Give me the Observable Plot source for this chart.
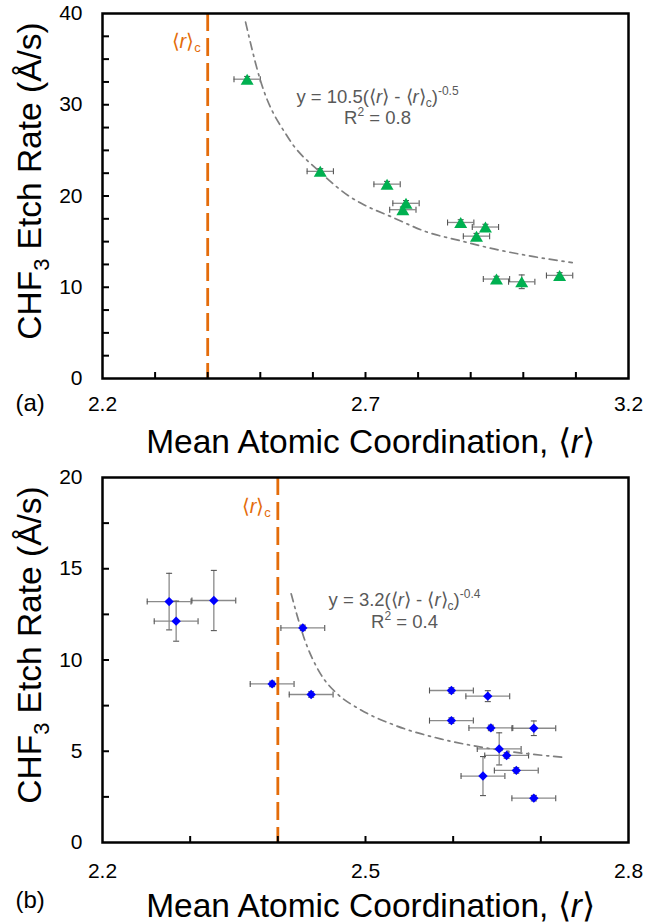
<!DOCTYPE html>
<html>
<head>
<meta charset="utf-8">
<script src="https://cdn.jsdelivr.net/npm/d3@7"></script>
<script src="https://cdn.jsdelivr.net/npm/@observablehq/plot@0.6"></script>
<style>
  html, body { margin: 0; padding: 0; background: #fff; }
  #chart { width: 668px; }
  #chart svg { display: block; }
</style>
</head>
<body>
<div id="chart"></div>
<script>
// ---------- Panel (a) data ----------
const xA = [2.475, 2.614, 2.741, 2.777, 2.771, 2.881, 2.928, 2.911, 2.949, 2.997, 3.069];
const yA = [32.8, 22.7, 21.3, 19.2, 18.5, 17.1, 16.6, 15.6, 10.9, 10.6, 11.3];
const xErrA = [0.025, 0.025, 0.025, 0.025, 0.025, 0.025, 0.025, 0.025, 0.025, 0.025, 0.025];
const yErrA = [0.3, 0.3, 0.3, 0.3, 0.3, 0.3, 0.3, 0.3, 0.3, 0.75, 0.3];
const fitXA = [2.472, 2.500, 2.554, 2.614, 2.671, 2.690, 2.750, 2.817, 2.880, 2.944, 3.020, 3.093];
const fitYA = [39.05, 32.7, 26.3, 22.6, 19.9, 19.25, 17.7, 16.05, 15.1, 14.2, 13.35, 12.7];
const xDomainA = [2.2, 3.2];
const yDomainA = [0, 40];
const xTicksA = [2.2, 2.7, 3.2];
const yTicksA = [0, 10, 20, 30, 40];
const xMinorA = [2.3, 2.4, 2.5, 2.6, 2.7, 2.8, 2.9, 3.0, 3.1];
const yMinorA = [2.5, 5, 7.5, 10, 12.5, 15, 17.5, 20, 22.5, 25, 27.5, 30, 32.5, 35, 37.5];
const rcA = [2.4];

// ---------- Panel (b) data ----------
const xB = [2.276, 2.284, 2.327, 2.4285, 2.3935, 2.438, 2.598, 2.6395, 2.598, 2.643, 2.692, 2.6525, 2.661, 2.672, 2.634, 2.692];
const yB = [13.2, 12.13, 13.26, 11.76, 8.69, 8.11, 8.33, 8.02, 6.68, 6.28, 6.26, 5.13, 4.77, 3.95, 3.64, 2.43];
const xErrB = [0.025, 0.025, 0.025, 0.025, 0.025, 0.025, 0.025, 0.025, 0.025, 0.025, 0.025, 0.025, 0.025, 0.025, 0.025, 0.025];
const yErrB = [1.55, 1.1, 1.65, 0.15, 0.15, 0.15, 0.15, 0.3, 0.15, 0.15, 0.4, 0.88, 0.15, 0.15, 1.07, 0.15];
const fitXB = [2.4152, 2.4296, 2.4487, 2.4677, 2.4923, 2.5342, 2.5855, 2.6388, 2.7244];
const fitYB = [13.63, 11.25, 9.24, 8.15, 7.33, 6.41, 5.68, 5.17, 4.67];
const xDomainB = [2.2, 2.8];
const yDomainB = [0, 20];
const xTicksB = [2.2, 2.5, 2.8];
const yTicksB = [0, 5, 10, 15, 20];
const xMinorB = [2.3, 2.4, 2.5, 2.6, 2.7];
const yMinorB = [2.5, 5, 7.5, 10, 12.5, 15, 17.5];
const rcB = [2.4];

// ---------- Texts ----------
const yTitle = "CHF3 Etch Rate (Å/s)";
const xTitle = "Mean Atomic Coordination, ⟨r⟩";
const rcLabel = "⟨r⟩c";
const eqA = "y = 10.5(⟨r⟩ - ⟨r⟩c)-0.5";
const r2A = "R2 = 0.8";
const eqB = "y = 3.2(⟨r⟩ - ⟨r⟩c)-0.4";
const r2B = "R2 = 0.4";
const panelLabels = ["(a)", "(b)"];

const TITLE_SIZE = 33.5;
const EQ_SIZE = 18.5;
const RICH = new Map([
  [yTitle, {size: TITLE_SIZE, segs: [["CHF"], ["3", "sub"], [" Etch Rate (Å/s)"]]}],
  [xTitle, {size: TITLE_SIZE, segs: [["Mean Atomic Coordination, ⟨"], ["r", "i"], ["⟩"]]}],
  [rcLabel, {size: 20, segs: [["⟨"], ["r", "i"], ["⟩"], ["c", "sub"]]}],
  [eqA, {size: EQ_SIZE, segs: [["y = 10.5(⟨"], ["r", "i"], ["⟩ - ⟨"], ["r", "i"], ["⟩"], ["c", "sub"], [")"], ["-0.5", "sup"]]}],
  [eqB, {size: EQ_SIZE, segs: [["y = 3.2(⟨"], ["r", "i"], ["⟩ - ⟨"], ["r", "i"], ["⟩"], ["c", "sub"], [")"], ["-0.4", "sup"]]}],
  [r2A, {size: EQ_SIZE, segs: [["R"], ["2", "sup"], [" = 0.8"]]}],
  [r2B, {size: EQ_SIZE, segs: [["R"], ["2", "sup"], [" = 0.4"]]}]
]);

const FONT = "'Liberation Sans', Arial, Helvetica, sans-serif";
const ORANGE = "#E46C0A";
const GREEN = "#00B050";
const BLUE = "#0000FF";
const ERR = "#8A8A8A";
const FIT = "#7F7F7F";
const TEXTGRAY = "#595959";

// custom symbols (centred on bounding box, like the spreadsheet markers)
const triangleSym = {draw(ctx, size) {
  const r = Math.sqrt(size / Math.PI);
  const w = 1.3 * r, h = 1.1 * r;
  ctx.moveTo(0, -h); ctx.lineTo(w, h); ctx.lineTo(-w, h); ctx.closePath();
}};
const diamondSym = {draw(ctx, size) {
  const r = Math.sqrt(size / Math.PI);
  ctx.moveTo(0, -r); ctx.lineTo(r, 0); ctx.lineTo(0, r); ctx.lineTo(-r, 0); ctx.closePath();
}};
const capV = {draw(ctx, size) {
  const r = Math.sqrt(size / Math.PI);
  ctx.moveTo(0, -r); ctx.lineTo(0, r);
}};
const capH = {draw(ctx, size) {
  const r = Math.sqrt(size / Math.PI);
  ctx.moveTo(-r, 0); ctx.lineTo(r, 0);
}};

function richify(svg) {
  d3.select(svg).selectAll("text").each(function () {
    const entry = RICH.get(this.textContent);
    if (!entry) return;
    const F = entry.size;
    const sel = d3.select(this);
    sel.text(null);
    let shift = 0;
    for (const [s, k] of entry.segs) {
      const ts = sel.append("tspan").text(s);
      const target = k === "sub" ? 0.22 * F : k === "sup" ? -0.4 * F : 0;
      if (target !== shift) { ts.attr("dy", target - shift); shift = target; }
      if (k === "sub" || k === "sup") ts.attr("font-size", 0.65 * F);
      if (k === "i") ts.attr("font-style", "italic");
    }
  });
}

function panel(opts) {
  const {xs, ys, xe, ye, fx, fy, xDomain, yDomain, xTicks, yTicks, xMinor, yMinor, rc,
         symbol, r, color, eq, r2, eqDx, eqDy, r2Dy, label, labelDy, marginTop, marginBottom,
         xTickPad, rcDy} = opts;
  const H = 462, ML = 102, MR = 40;
  const fw = 668 - ML - MR, fh = H - marginTop - marginBottom;
  const rows = xs.map((x, i) => ({x, y: ys[i], xe: xe[i], ye: ye[i]}));
  const fit = fx.map((x, i) => ({x, y: fy[i]}));
  const svg = Plot.plot({
    width: 668, height: H,
    marginLeft: ML, marginRight: MR, marginTop, marginBottom,
    style: {fontFamily: FONT, background: "white", color: "black", overflow: "visible"},
    x: {domain: xDomain},
    y: {domain: yDomain},
    marks: [
      // error bars
      Plot.ruleY(rows, {y: "y", x1: d => d.x - d.xe, x2: d => d.x + d.xe, stroke: ERR, strokeWidth: 1.3}),
      Plot.ruleX(rows, {x: "x", y1: d => d.y - d.ye, y2: d => d.y + d.ye, stroke: ERR, strokeWidth: 1.3}),
      Plot.dot(rows, {x: d => d.x - d.xe, y: "y", symbol: capV, r: 3, fill: "none", stroke: "#555", strokeWidth: 1.1}),
      Plot.dot(rows, {x: d => d.x + d.xe, y: "y", symbol: capV, r: 3, fill: "none", stroke: "#555", strokeWidth: 1.1}),
      Plot.dot(rows, {x: "x", y: d => d.y - d.ye, symbol: capH, r: 3, fill: "none", stroke: "#555", strokeWidth: 1.1}),
      Plot.dot(rows, {x: "x", y: d => d.y + d.ye, symbol: capH, r: 3, fill: "none", stroke: "#555", strokeWidth: 1.1}),
      // power-law trend line
      Plot.line(fit, {x: "x", y: "y", stroke: FIT, strokeWidth: 1.7, strokeDasharray: "8,5,2,5", curve: "monotone-x"}),
      // markers
      Plot.dot(rows, {x: "x", y: "y", symbol, r, fill: color, stroke: "none"}),
      // critical coordination line
      Plot.ruleX(rc, {x: d => d, stroke: ORANGE, strokeWidth: 2.8, strokeDasharray: "18,7"}),
      Plot.text([rcLabel], {x: () => rc[0], frameAnchor: "top", text: d => d, dx: -7, dy: rcDy,
        textAnchor: "end", lineAnchor: "bottom", fontSize: 20, fill: ORANGE}),
      // frame + inward ticks
      Plot.frame({stroke: "black", strokeWidth: 2.5}),
      Plot.tickX(xMinor, {x: d => d, insetTop: fh - 6, stroke: "black", strokeWidth: 2}),
      Plot.tickY(yMinor, {y: d => d, insetRight: fw - 7, stroke: "black", strokeWidth: 2}),
      // axes labels
      Plot.axisX({ticks: xTicks, tickSize: 0, tickPadding: xTickPad, fontSize: 21, label: null, tickFormat: d => d3.format(".1f")(d)}),
      Plot.axisY({ticks: yTicks, tickSize: 0, tickPadding: 20, fontSize: 21, label: null}),
      // titles
      Plot.text([xTitle], {frameAnchor: "bottom", text: d => d, dx: 5, dy: 51, textAnchor: "middle", lineAnchor: "top", fontSize: TITLE_SIZE, fill: "black"}),
      Plot.text([yTitle], {frameAnchor: "left", text: d => d, rotate: -90, dx: -72, dy: -15, textAnchor: "middle", lineAnchor: "middle", fontSize: TITLE_SIZE, fill: "black"}),
      Plot.text([label], {frameAnchor: "bottom-left", text: d => d, dx: -87, dy: labelDy, textAnchor: "start", lineAnchor: "middle", fontSize: 24, fill: "black"}),
      // fit annotation
      Plot.text([eq], {frameAnchor: "top-left", text: d => d, dx: eqDx, dy: eqDy, textAnchor: "middle", lineAnchor: "bottom", fontSize: EQ_SIZE, fill: TEXTGRAY}),
      Plot.text([r2], {frameAnchor: "top-left", text: d => d, dx: eqDx, dy: r2Dy, textAnchor: "middle", lineAnchor: "bottom", fontSize: EQ_SIZE, fill: TEXTGRAY})
    ]
  });
  richify(svg);
  return svg;
}

const root = document.getElementById("chart");
root.appendChild(panel({
  xs: xA, ys: yA, xe: xErrA, ye: yErrA, fx: fitXA, fy: fitYA,
  xDomain: xDomainA, yDomain: yDomainA, xTicks: xTicksA, yTicks: yTicksA,
  xMinor: xMinorA, yMinor: yMinorA, rc: rcA,
  symbol: triangleSym, r: 5, color: GREEN,
  eq: eqA, r2: r2A, eqDx: 275, eqDy: 89, r2Dy: 110,
  label: panelLabels[0], labelDy: 25, marginTop: 13, marginBottom: 84, xTickPad: 18, rcDy: 34
}));
root.appendChild(panel({
  xs: xB, ys: yB, xe: xErrB, ye: yErrB, fx: fitXB, fy: fitYB,
  xDomain: xDomainB, yDomain: yDomainB, xTicks: xTicksB, yTicks: yTicksB,
  xMinor: xMinorB, yMinor: yMinorB, rc: rcB,
  symbol: diamondSym, r: 4.7, color: BLUE,
  eq: eqB, r2: r2B, eqDx: 302, eqDy: 128, r2Dy: 150,
  label: panelLabels[1], labelDy: 58, marginTop: 15, marginBottom: 82, xTickPad: 21, rcDy: 35
}));
</script>
</body>
</html>
